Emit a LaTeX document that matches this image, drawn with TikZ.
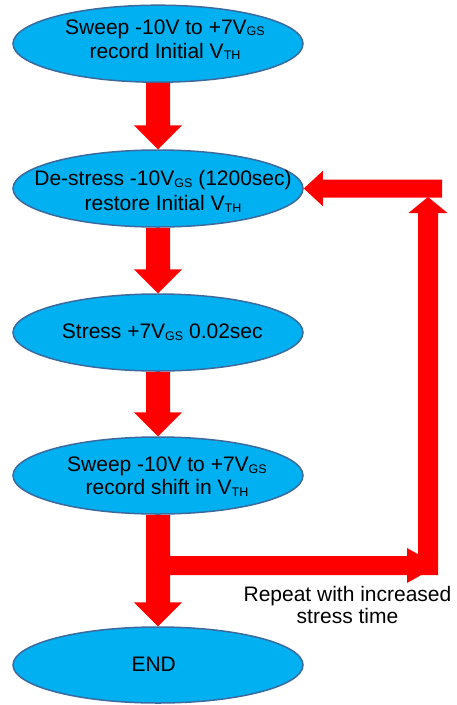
\documentclass[tikz,border=0pt]{standalone}
\usepackage{fontspec}
\setmainfont{Liberation Sans}
\usetikzlibrary{shapes.geometric,calc}
\definecolor{ellfill}{HTML}{00B0F0}
\definecolor{elldraw}{HTML}{3A6A9E}
\definecolor{arrred}{HTML}{FF0000}
\newcommand{\subsc}[1]{\raisebox{-1.7pt}{\fontsize{12.5}{12.5}\selectfont #1}}
% #1 start, #2 end, #3 shaft half width, #4 head half width, #5 head length
\newcommand{\fatarrow}[5]{%
  \coordinate (fa-hb) at ($(#2)!#5!(#1)$);
  \fill[arrowfill] ($(#1)!#3!-90:(#2)$) -- ($(fa-hb)!#3!90:(#1)$) -- ($(fa-hb)!#4!90:(#1)$) -- (#2)
    -- ($(fa-hb)!#4!-90:(#1)$) -- ($(fa-hb)!#3!-90:(#1)$) -- ($(#1)!#3!90:(#2)$) -- cycle;}
\begin{document}
\begin{tikzpicture}[x=1pt,y=-1pt,
  flowell/.style={ellipse, draw=elldraw, line width=1.5pt, fill=ellfill,
    minimum width=290pt, minimum height=77pt, inner sep=0pt},
  txt/.style={align=center, inner sep=0pt, font=\fontsize{21}{24}\selectfont},
  arrowfill/.style={fill=arrred}]
\useasboundingbox (0,0) rectangle (457,705);
% ellipses
\node[flowell] (e1) at (158,43.7) {};
\node[flowell] (e2) at (158,188.5) {};
\node[flowell] (e3) at (158,332.5) {};
\node[flowell] (e4) at (158,475.5) {};
\node[flowell, minimum height=76pt] (e5) at (158,665) {};
% main arrows
\fatarrow{e1.south}{e2.north}{12pt}{24pt}{24pt}
\fatarrow{e2.south}{e3.north}{12pt}{24pt}{24pt}
\fatarrow{e3.south}{e4.north}{12pt}{24pt}{24pt}
\fatarrow{e4.south}{e5.north}{12pt}{24pt}{24pt}
% loop back
\coordinate (brS) at (158,565.5);
\coordinate (brE) at (438,565.5);
\coordinate (upS) at (428,575);
\coordinate (upE) at (428,197);
\coordinate (tpS) at (442,188.5);
\fatarrow{brS}{brE}{9.5pt}{17.5pt}{31pt}
\fatarrow{upS}{upE}{10pt}{19.5pt}{16pt}
\fatarrow{tpS}{e2.east}{9pt}{17.5pt}{19pt}
% texts
\node[txt] (t1) at (165,39.65) {Sweep -10V to +7V\subsc{GS}\\record Initial V\subsc{TH}};
\node[txt, font=\fontsize{21}{25}\selectfont] (t2) at (163,191.6) {De-stress -10V\subsc{GS} (1200sec)\\restore Initial V\subsc{TH}};
\node[txt, anchor=base] (t3) at (162.3,338.3) {Stress +7V\subsc{GS} 0.02sec};
\node[txt, font=\fontsize{21}{23.3}\selectfont] (t4) at (167,476.5) {Sweep -10V to +7V\subsc{GS}\\record shift in V\subsc{TH}};
\node[txt, anchor=base] (t5) at (153.7,671.7) {END};
\node[txt, font=\fontsize{21}{21.6}\selectfont] (rep) at (347.5,604.8) {Repeat with increased\\stress time};
\end{tikzpicture}
\end{document}
